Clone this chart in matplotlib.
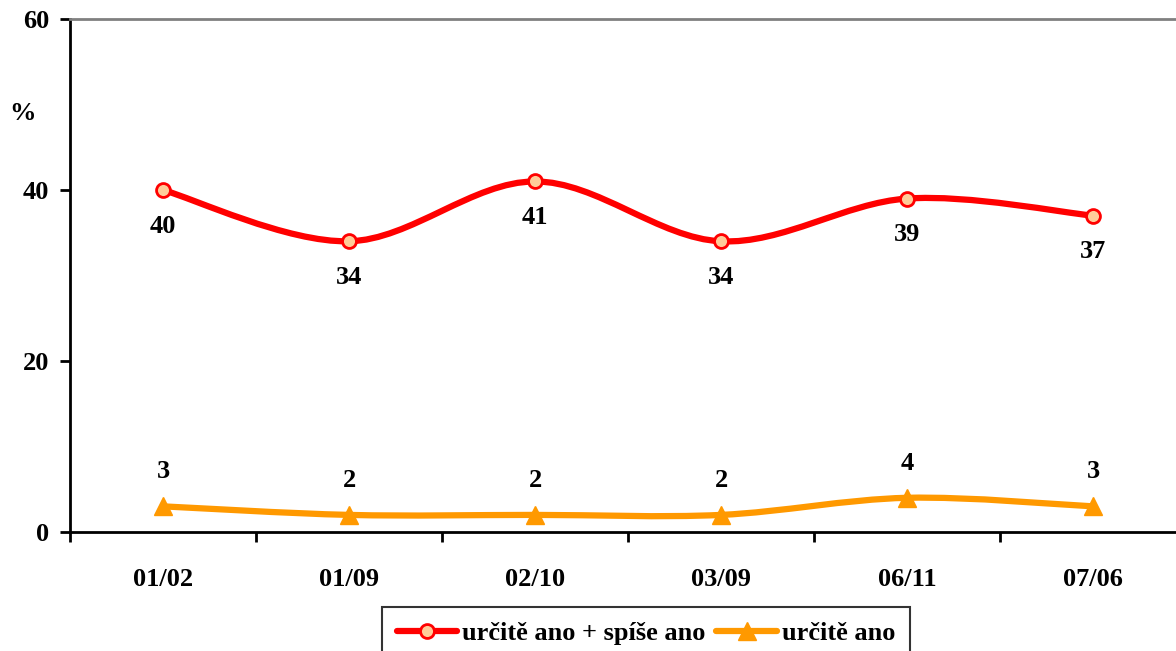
import matplotlib
matplotlib.use("Agg")
import matplotlib.pyplot as plt
from matplotlib.path import Path
from matplotlib.patches import PathPatch
from matplotlib.lines import Line2D
import numpy as np

kategorie = ["01/02", "01/09", "02/10", "03/09", "06/11", "07/06"]
urcite_spise = [40, 34, 41, 34, 39, 37]
urcite = [3, 2, 2, 2, 4, 3]

plt.rcParams['font.family'] = ['Liberation Serif', 'DejaVu Serif']
plt.rcParams['font.weight'] = 'bold'
plt.rcParams['font.size'] = 19


def hladka_cesta(xs, ys):
    # Excel-like smoothing: Bezier segments through the data points
    xs = np.asarray(xs, float)
    ys = np.asarray(ys, float)
    n = len(xs)
    verts = [(xs[0], ys[0])]
    codes = [Path.MOVETO]
    for i in range(n - 1):
        p0 = np.array([xs[max(i - 1, 0)], ys[max(i - 1, 0)]])
        p1 = np.array([xs[i], ys[i]])
        p2 = np.array([xs[i + 1], ys[i + 1]])
        p3 = np.array([xs[min(i + 2, n - 1)], ys[min(i + 2, n - 1)]])
        c1 = p1 + (p2 - p0) / 6
        c2 = p2 - (p3 - p1) / 6
        verts += [tuple(c1), tuple(c2), tuple(p2)]
        codes += [Path.CURVE4] * 3
    return Path(verts, codes)


fig = plt.figure(figsize=(11.76, 6.51), dpi=100)
ax = fig.add_axes([70 / 1176, 119 / 651, 1116 / 1176, 513 / 651])

x = np.arange(len(kategorie))

cerv = "#FF0000"
oranz = "#FF9900"

ax.add_patch(PathPatch(hladka_cesta(x, urcite_spise), fill=False, edgecolor=cerv,
                       lw=4.5, capstyle='round', zorder=3))
ax.add_patch(PathPatch(hladka_cesta(x, urcite), fill=False, edgecolor=oranz,
                       lw=4.5, capstyle='round', zorder=3))
ax.plot(x, urcite_spise, linestyle='none', marker='o', ms=10, mfc="#FFCC99",
        mec=cerv, mew=2, zorder=4, clip_on=False)
ax.plot(x, urcite, linestyle='none', marker='^', ms=13, mfc=oranz,
        mec=oranz, zorder=4, clip_on=False)

for xi, v in zip(x, urcite_spise):
    ax.annotate(str(v), (xi, v), xytext=(0, -26), textcoords='offset points',
                ha='center', va='center', fontsize=19, fontweight='bold')
for xi, v in zip(x, urcite):
    ax.annotate(str(v), (xi, v), xytext=(0, 25), textcoords='offset points',
                ha='center', va='center', fontsize=19, fontweight='bold')

ax.set_xlim(-0.5, len(kategorie) - 0.5)
ax.set_ylim(0, 60)
ax.set_yticks([0, 20, 40, 60])
ax.set_xticks(x)
ax.set_xticklabels(kategorie)
ax.set_xticks(np.arange(-0.5, len(kategorie), 1), minor=True)
ax.tick_params(axis='x', which='major', length=0, pad=26, labelsize=19)
ax.tick_params(axis='x', which='minor', length=7, width=2, direction='out')
ax.tick_params(axis='y', length=7, width=2, direction='out', pad=8, labelsize=19)

for s in ['left', 'bottom']:
    ax.spines[s].set_linewidth(2)
    ax.spines[s].set_color('black')
ax.spines['top'].set_color('#808080')
ax.spines['top'].set_linewidth(2)
ax.spines['right'].set_visible(False)

fig.text(22 / 1176, 1 - 113 / 651, "%", ha='center', va='center',
         fontsize=19, fontweight='bold')

handles = [
    Line2D([], [], color=cerv, lw=4.5, marker='o', ms=10, mfc="#FFCC99",
           mec=cerv, mew=2, solid_capstyle='round'),
    Line2D([], [], color=oranz, lw=4.5, marker='^', ms=13, mfc=oranz,
           mec=oranz, solid_capstyle='round'),
]
leg = fig.legend(handles, ["určitě ano + spíše ano", "určitě ano"], ncol=2,
                 loc='upper left', bbox_to_anchor=(382 / 1176, 1 - 607 / 651),
                 frameon=True, fancybox=False, edgecolor='black',
                 handlelength=2.3, handletextpad=0.2, columnspacing=0.4,
                 borderpad=0.55, borderaxespad=0,
                 prop={'weight': 'bold', 'size': 19})
leg.get_frame().set_linewidth(1.5)

fig.savefig("out.png", dpi=100)
